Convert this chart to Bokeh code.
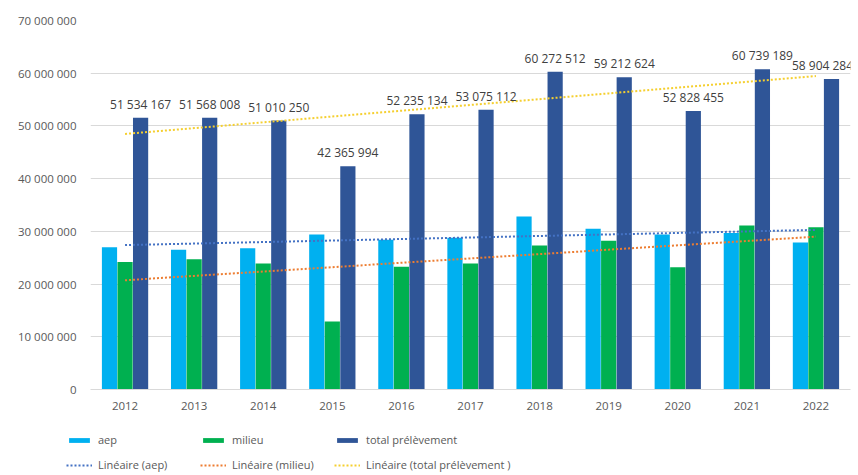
from bokeh.plotting import figure
from bokeh.layouts import column
from bokeh.models import FactorRange, Range1d, FixedTicker, Legend, LegendItem, ColumnDataSource
from bokeh.transform import dodge
from bokeh.embed import file_html
from bokeh.resources import INLINE
import numpy as np

years = ["2012", "2013", "2014", "2015", "2016", "2017", "2018", "2019", "2020", "2021", "2022"]
aep = [27.0e6, 26.5e6, 26.8e6, 29.4e6, 28.4e6, 28.8e6, 32.8e6, 30.5e6, 29.4e6, 29.7e6, 27.9e6]
milieu = [24.2e6, 24.7e6, 23.9e6, 12.9e6, 23.3e6, 23.9e6, 27.3e6, 28.2e6, 23.2e6, 31.1e6, 30.8e6]
total = [51534167, 51568008, 51010250, 42365994, 52235134, 53075112, 60272512,
         59212624, 52828455, 60739189, 58904284]
y_ticks = [0, 10000000, 20000000, 30000000, 40000000, 50000000, 60000000, 70000000]
y_tick_labels = ["0", "10 000 000", "20 000 000", "30 000 000", "40 000 000",
                 "50 000 000", "60 000 000", "70 000 000"]
series_names = ["aep", "milieu", "total prélèvement"]
trend_names = ["Linéaire (aep)", "Linéaire (milieu)", "Linéaire (total prélèvement )"]

C_AEP = "#00B0F0"
C_MIL = "#00B050"
C_TOT = "#2F5597"
C_TAEP = "#4472C4"
C_TMIL = "#ED7D31"
C_TTOT = "#F5CF2F"
FONT = "Open Sans"
TXT = "#595959"


def fmt(v):
    return "{:,}".format(int(v)).replace(",", " ")


def trend(vals):
    x = np.arange(len(vals))
    k, b = np.polyfit(x, np.array(vals, dtype=float), 1)
    return list(k * x + b)


# keep the last label inside the plot edge
lbl_dx = [0] * (len(years) - 1) + [-9]

src = ColumnDataSource(dict(
    years=years, aep=aep, milieu=milieu, total=total,
    total_lbl=[fmt(v) for v in total], lbl_dx=lbl_dx,
    t_aep=trend(aep), t_mil=trend(milieu), t_tot=trend(total),
))

p = figure(width=858, height=422, x_range=FactorRange(*years), y_range=Range1d(0, 70000000),
           output_backend="svg", toolbar_location=None,
           min_border_left=90, min_border_right=8, min_border_top=20, min_border_bottom=33)
p.outline_line_color = None

W = 0.22
OFF = 0.225
p.vbar(x=dodge("years", -OFF, range=p.x_range), top="aep", width=W, source=src,
       fill_color=C_AEP, line_color=None)
p.vbar(x=dodge("years", 0, range=p.x_range), top="milieu", width=W, source=src,
       fill_color=C_MIL, line_color=None)
p.vbar(x=dodge("years", OFF, range=p.x_range), top="total", width=W, source=src,
       fill_color=C_TOT, line_color=None)

p.line(x="years", y="t_aep", source=src, line_color=C_TAEP, line_width=2, line_dash="2 2")
p.line(x="years", y="t_mil", source=src, line_color=C_TMIL, line_width=2, line_dash="2 2")
p.line(x="years", y="t_tot", source=src, line_color=C_TTOT, line_width=2, line_dash="2 2")

p.text(x=dodge("years", OFF, range=p.x_range), y="total", text="total_lbl", source=src,
       x_offset="lbl_dx", text_align="center", text_baseline="bottom", y_offset=-5,
       text_font={"value": FONT}, text_font_size="12px", text_color="#404040")

p.yaxis.ticker = FixedTicker(ticks=y_ticks)
p.yaxis.major_label_overrides = {t: l for t, l in zip(y_ticks, y_tick_labels)}
p.yaxis.axis_line_color = None
p.yaxis.major_tick_line_color = None
p.yaxis.minor_tick_line_color = None
p.yaxis.major_tick_out = 0
p.yaxis.major_label_standoff = 14
p.yaxis.major_label_text_font = FONT
p.yaxis.major_label_text_font_size = "11.5px"
p.yaxis.major_label_text_color = TXT

p.xaxis.axis_line_color = "#D9D9D9"
p.xaxis.major_tick_line_color = None
p.xaxis.minor_tick_line_color = None
p.xaxis.major_tick_out = 0
p.xaxis.major_label_standoff = 12
p.xaxis.major_label_text_font = FONT
p.xaxis.major_label_text_font_size = "11.5px"
p.xaxis.major_label_text_color = TXT

p.xgrid.grid_line_color = None
p.ygrid.ticker = FixedTicker(ticks=y_ticks)
p.ygrid.grid_line_color = "#D9D9D9"

# legend strip below the chart
q = figure(width=858, height=50, x_range=Range1d(0, 1), y_range=Range1d(0, 1),
           output_backend="svg", toolbar_location=None, min_border=0,
           x_axis_location=None, y_axis_location=None)
try:
    q.frame_align = False
    p.frame_align = False
except Exception:
    pass
q.outline_line_color = None
q.grid.visible = False
hidden = ColumnDataSource(dict(x=[5], y=[5]))
b1 = q.vbar(x="x", top="y", width=0.1, source=hidden, fill_color=C_AEP, line_color=None)
b2 = q.vbar(x="x", top="y", width=0.1, source=hidden, fill_color=C_MIL, line_color=None)
b3 = q.vbar(x="x", top="y", width=0.1, source=hidden, fill_color=C_TOT, line_color=None)
t1 = q.line(x="x", y="y", source=hidden, line_color=C_TAEP, line_width=2, line_dash="2 2")
t2 = q.line(x="x", y="y", source=hidden, line_color=C_TMIL, line_width=2, line_dash="2 2")
t3 = q.line(x="x", y="y", source=hidden, line_color=C_TTOT, line_width=2, line_dash="2 2")

legend = Legend(items=[
    LegendItem(label=series_names[0], renderers=[b1]),
    LegendItem(label=trend_names[0], renderers=[t1]),
    LegendItem(label=series_names[1], renderers=[b2]),
    LegendItem(label=trend_names[1], renderers=[t2]),
    LegendItem(label=series_names[2], renderers=[b3]),
    LegendItem(label=trend_names[2], renderers=[t3]),
], ncols=3, location=(66, 0))
legend.background_fill_alpha = 0
legend.border_line_color = None
legend.padding = 0
legend.margin = 0
legend.spacing = 10
legend.glyph_width = 26
legend.glyph_height = 6
legend.label_height = 11
legend.label_width = 92
legend.label_standoff = 6
legend.label_text_font = FONT
legend.label_text_font_size = "11px"
legend.label_text_color = TXT
q.add_layout(legend, "center")

open("out.html", "w").write(file_html(column(p, q, spacing=0), INLINE))
